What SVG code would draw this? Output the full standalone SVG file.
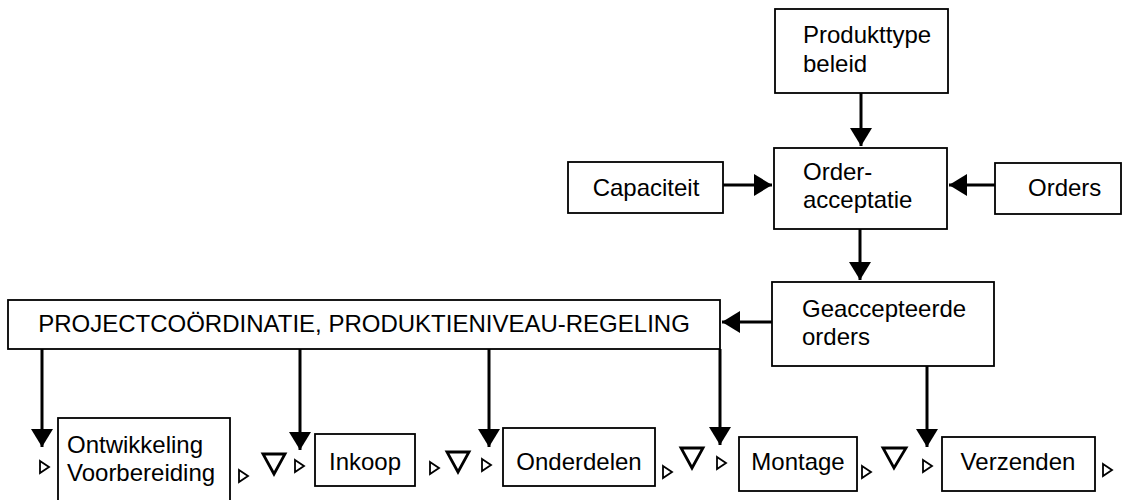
<svg xmlns="http://www.w3.org/2000/svg" width="1126" height="500" viewBox="0 0 1126 500">
<defs>
<style>
.box{fill:#fff;stroke:#000;stroke-width:1.8}
.t{font-family:"Liberation Sans",Arial,Helvetica,sans-serif;font-size:24px;fill:#000}
.c{text-anchor:middle}
.ln{stroke:#000;stroke-width:3;fill:none}
.tri{fill:#fff;stroke:#000;stroke-width:1.8;stroke-linejoin:miter}
.big{fill:#fff;stroke:#000;stroke-width:2.8;stroke-linejoin:miter}
</style>
<marker id="ah" markerUnits="userSpaceOnUse" markerWidth="20" markerHeight="22" refX="18" refY="11" orient="auto">
<path d="M0,0 L18,11 L0,22 Z" fill="#000"/>
</marker>
</defs>
<rect width="1126" height="500" fill="#fff"/>

<g id="connectors">
<line class="ln" x1="861" y1="93" x2="861" y2="146" marker-end="url(#ah)"/>
<line class="ln" x1="723" y1="185" x2="772" y2="185" marker-end="url(#ah)"/>
<line class="ln" x1="995" y1="185" x2="949" y2="185" marker-end="url(#ah)"/>
<line class="ln" x1="860" y1="229" x2="860" y2="280" marker-end="url(#ah)"/>
<line class="ln" x1="772" y1="322" x2="722" y2="322" marker-end="url(#ah)"/>
<line class="ln" x1="42" y1="349" x2="42" y2="447" marker-end="url(#ah)"/>
<line class="ln" x1="300" y1="349" x2="300" y2="450" marker-end="url(#ah)"/>
<line class="ln" x1="489" y1="349" x2="489" y2="447" marker-end="url(#ah)"/>
<line class="ln" x1="720" y1="349" x2="720" y2="445" marker-end="url(#ah)"/>
<line class="ln" x1="927" y1="366" x2="927" y2="447" marker-end="url(#ah)"/>
</g>

<g id="produkttype">
<rect class="box" x="775" y="9" width="173" height="84"/>
<text class="t" x="803" y="43">Produkttype</text>
<text class="t" x="803" y="72">beleid</text>
</g>
<g id="orderacceptatie">
<rect class="box" x="774" y="148" width="173" height="81"/>
<text class="t" x="803" y="180">Order-</text>
<text class="t" x="803" y="208">acceptatie</text>
</g>
<g id="capaciteit">
<rect class="box" x="568" y="162" width="155" height="51"/>
<text class="t c" x="646" y="196">Capaciteit</text>
</g>
<g id="orders">
<rect class="box" x="995" y="163" width="126" height="51"/>
<text class="t" x="1028" y="196">Orders</text>
</g>
<g id="geaccepteerde">
<rect class="box" x="772" y="282" width="222" height="84"/>
<text class="t" x="802" y="317">Geaccepteerde</text>
<text class="t" x="802" y="345">orders</text>
</g>
<g id="projectcoordinatie">
<rect class="box" x="8" y="300" width="712" height="49"/>
<text class="t c" x="364" y="332">PROJECTCOÖRDINATIE, PRODUKTIENIVEAU-REGELING</text>
</g>

<g id="ontwikkeling">
<rect class="box" x="58" y="418" width="172" height="90"/>
<text class="t" x="67" y="453">Ontwikkeling</text>
<text class="t" x="67" y="481">Voorbereiding</text>
</g>
<g id="inkoop">
<rect class="box" x="315" y="434" width="100" height="52"/>
<text class="t c" x="365" y="470">Inkoop</text>
</g>
<g id="onderdelen">
<rect class="box" x="503" y="428" width="152" height="58"/>
<text class="t c" x="579" y="470">Onderdelen</text>
</g>
<g id="montage">
<rect class="box" x="739" y="437" width="118" height="54"/>
<text class="t c" x="798" y="470">Montage</text>
</g>
<g id="verzenden">
<rect class="box" x="942" y="437" width="153" height="54"/>
<text class="t c" x="1018" y="470">Verzenden</text>
</g>

<g id="markers">
<polygon class="tri" points="40,461 49,467 40,473"/>
<polygon class="tri" points="239,470 248,476 239,482"/>
<polygon class="big" points="263,454 285,454 274,474"/>
<polygon class="tri" points="295,460 304,466 295,472"/>
<polygon class="tri" points="430,462 439,468 430,474"/>
<polygon class="big" points="447,452 469,452 458,472"/>
<polygon class="tri" points="482,459 491,465 482,471"/>
<polygon class="tri" points="663,466 672,472 663,478"/>
<polygon class="big" points="681,448 703,448 692,468"/>
<polygon class="tri" points="717,457 726,463 717,469"/>
<polygon class="tri" points="862,466 871,472 862,478"/>
<polygon class="big" points="883,448 906,448 894,468"/>
<polygon class="tri" points="923,460 932,466 923,472"/>
<polygon class="tri" points="1103,464 1112,470 1103,476"/>
</g>
</svg>
